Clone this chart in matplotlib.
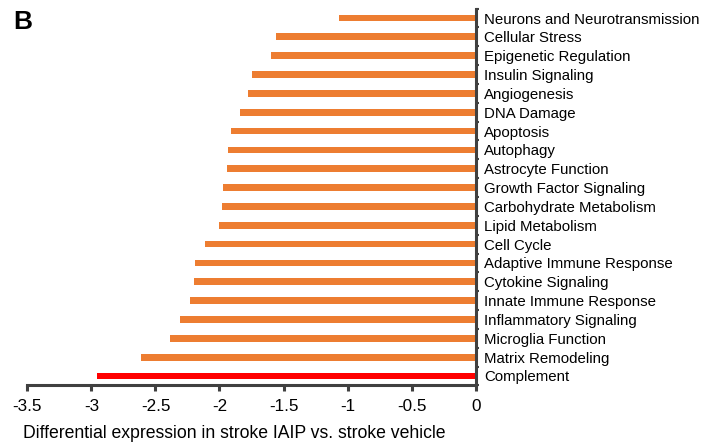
import matplotlib
matplotlib.use("Agg")
import matplotlib.pyplot as plt
import numpy as np

plt.rcParams['font.family'] = ['Liberation Sans', 'DejaVu Sans']

categories = ["Neurons and Neurotransmission", "Cellular Stress", "Epigenetic Regulation",
              "Insulin Signaling", "Angiogenesis", "DNA Damage", "Apoptosis", "Autophagy",
              "Astrocyte Function", "Growth Factor Signaling", "Carbohydrate Metabolism",
              "Lipid Metabolism", "Cell Cycle", "Adaptive Immune Response", "Cytokine Signaling",
              "Innate Immune Response", "Inflammatory Signaling", "Microglia Function",
              "Matrix Remodeling", "Complement"]
values = [-1.07, -1.56, -1.60, -1.75, -1.78, -1.84, -1.91, -1.93, -1.94, -1.97,
          -1.98, -2.00, -2.11, -2.19, -2.20, -2.23, -2.31, -2.39, -2.61, -2.96]
xticks = [-3.5, -3, -2.5, -2, -1.5, -1, -0.5, 0]
xticklabels = ["-3.5", "-3", "-2.5", "-2", "-1.5", "-1", "-0.5", "0"]

orange = "#ED7D31"
red = "#FF0000"
colors = [red if c == "Complement" else orange for c in categories]

fig = plt.figure(figsize=(7.1, 4.45), dpi=100)
ax = fig.add_axes([0.0385, 0.1339, 0.6315, 0.8468])

n = len(categories)
ypos = np.arange(n)[::-1]
ax.barh(ypos, values, height=0.36, color=colors)

ax.set_xlim(-3.5, 0)
ax.set_ylim(-0.5, n - 0.5)

spine_col = "#404040"
for s in ["top", "left"]:
    ax.spines[s].set_visible(False)
ax.spines["right"].set_color(spine_col)
ax.spines["right"].set_linewidth(2.2)
ax.spines["bottom"].set_color(spine_col)
ax.spines["bottom"].set_linewidth(2.2)

ax.set_xticks(xticks)
ax.set_xticklabels(xticklabels, fontsize=12.3)
ax.tick_params(axis='x', direction='out', length=4, width=2.2, color=spine_col, pad=6)

ax.yaxis.tick_right()
ax.set_yticks(ypos)
ax.set_yticklabels(categories, fontsize=10.8)
ax.tick_params(axis='y', which='major', length=0, pad=6)
ax.set_yticks(np.arange(n + 1) - 0.5, minor=True)
ax.tick_params(axis='y', which='minor', direction='out', length=2.5, width=1.5, color=spine_col)

ax.set_xlabel("Differential expression in stroke IAIP vs. stroke vehicle", fontsize=12.7)
ax.xaxis.set_label_coords(0.461, -0.105)

fig.text(0.019, 0.978, "B", fontsize=19, fontweight='bold', va='top', ha='left')

fig.savefig("out.png", dpi=100)
